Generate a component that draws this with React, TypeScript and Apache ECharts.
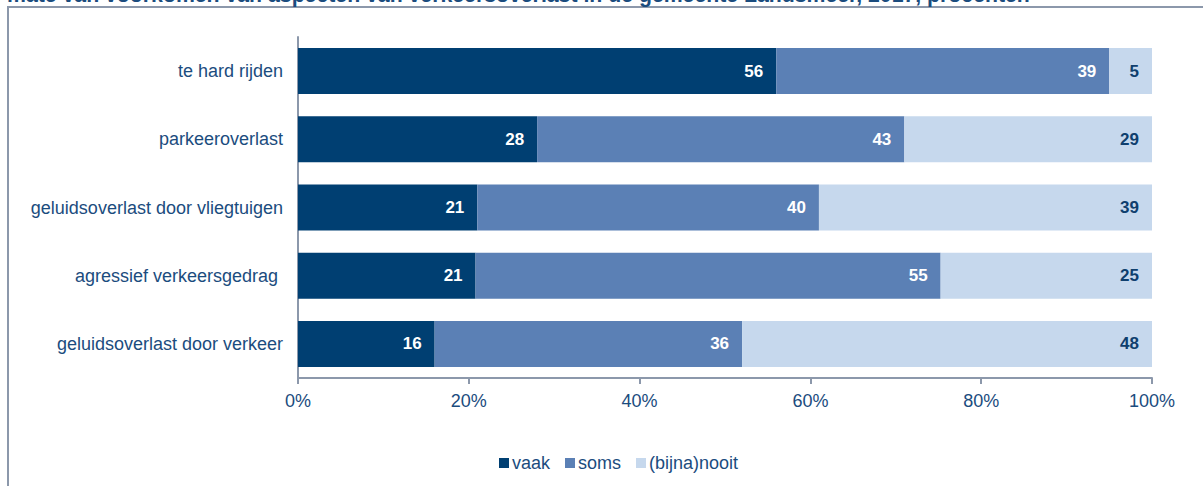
import React, { useEffect, useRef } from "react";
import * as echarts from "echarts";

const categories = [
  "te hard rijden",
  "parkeeroverlast",
  "geluidsoverlast door vliegtuigen",
  "agressief verkeersgedrag ",
  "geluidsoverlast door verkeer",
];
const vaak = [56, 28, 21, 21, 16];
const soms = [39, 43, 40, 55, 36];
const nooit = [5, 29, 39, 25, 48];
const seriesNames = ["vaak", "soms", "(bijna)nooit"];
const xTicks = [0, 20, 40, 60, 80, 100];
const title =
  "mate van voorkomen van aspecten van verkeersoverlast in de gemeente Landsmeer, 2017, procenten";

const COLORS = ["#003f72", "#5b80b5", "#c6d8ed"];
const TEXT = "#1b4c7e";
const AXIS = "#8c98ab";
const FONT = "'Liberation Sans', Arial, sans-serif";

export default function App() {
  const ref = useRef<HTMLDivElement>(null);
  useEffect(() => {
    if (!ref.current) return;
    const chart = echarts.init(ref.current, null, { renderer: "svg" });
    const totals = categories.map((_, i) => vaak[i] + soms[i] + nooit[i]);
    const raw = [vaak, soms, nooit];
    const series = raw.map((arr, s) => ({
      name: seriesNames[s],
      type: "bar",
      stack: "total",
      barWidth: 46,
      data: arr.map((v, i) => ({ value: (v / totals[i]) * 100, raw: v })),
      itemStyle: { color: COLORS[s] },
      label: {
        show: true,
        position: "insideRight",
        distance: 13,
        fontFamily: FONT,
        fontSize: 17,
        fontWeight: "bold",
        color: s === 2 ? "#0f3f6e" : "#ffffff",
        formatter: (p: any) => String(raw[s][p.dataIndex]),
      },
    }));
    chart.setOption({
      animation: false,
      textStyle: { fontFamily: FONT },
      grid: { left: 298, right: 51, top: 37, bottom: 108, containLabel: false },
      legend: {
        data: seriesNames,
        bottom: 9,
        left: 494,
        itemWidth: 10,
        itemHeight: 10,
        itemGap: 15,
        icon: "rect",
        textStyle: { fontFamily: FONT, fontSize: 18, color: TEXT, padding: [0, 0, 0, -2] },
      },
      xAxis: {
        type: "value",
        min: xTicks[0],
        max: xTicks[xTicks.length - 1],
        interval: 20,
        axisLine: { show: true, lineStyle: { color: AXIS, width: 2 } },
        axisTick: { show: true, length: 6, lineStyle: { color: AXIS, width: 2 } },
        splitLine: { show: false },
        axisLabel: {
          formatter: "{value}%",
          fontFamily: FONT,
          fontSize: 18,
          color: TEXT,
          margin: 14,
        },
      },
      yAxis: {
        type: "category",
        data: categories,
        inverse: true,
        axisLine: { show: true, lineStyle: { color: AXIS, width: 2 } },
        axisTick: { show: false },
        axisLabel: { fontFamily: FONT, fontSize: 18, color: TEXT, margin: 15 },
      },
      graphic: [
        {
          type: "rect",
          shape: { x: 8, y: 7, width: 1400, height: 700 },
          style: { fill: "none", stroke: AXIS, lineWidth: 2 },
          silent: true,
        },
        {
          type: "text",
          x: 7,
          y: -16,
          style: {
            text: title,
            fontFamily: FONT,
            fontSize: 21.25,
            fontWeight: "bold",
            fill: "#1b4c7e",
            verticalAlign: "top",
          },
          silent: true,
        },
      ],
      series,
    });
    return () => chart.dispose();
  }, []);
  return (
    <div
      ref={ref}
      style={{ position: "fixed", left: 0, top: 0, width: 1203, height: 486, background: "#fff" }}
    />
  );
}
